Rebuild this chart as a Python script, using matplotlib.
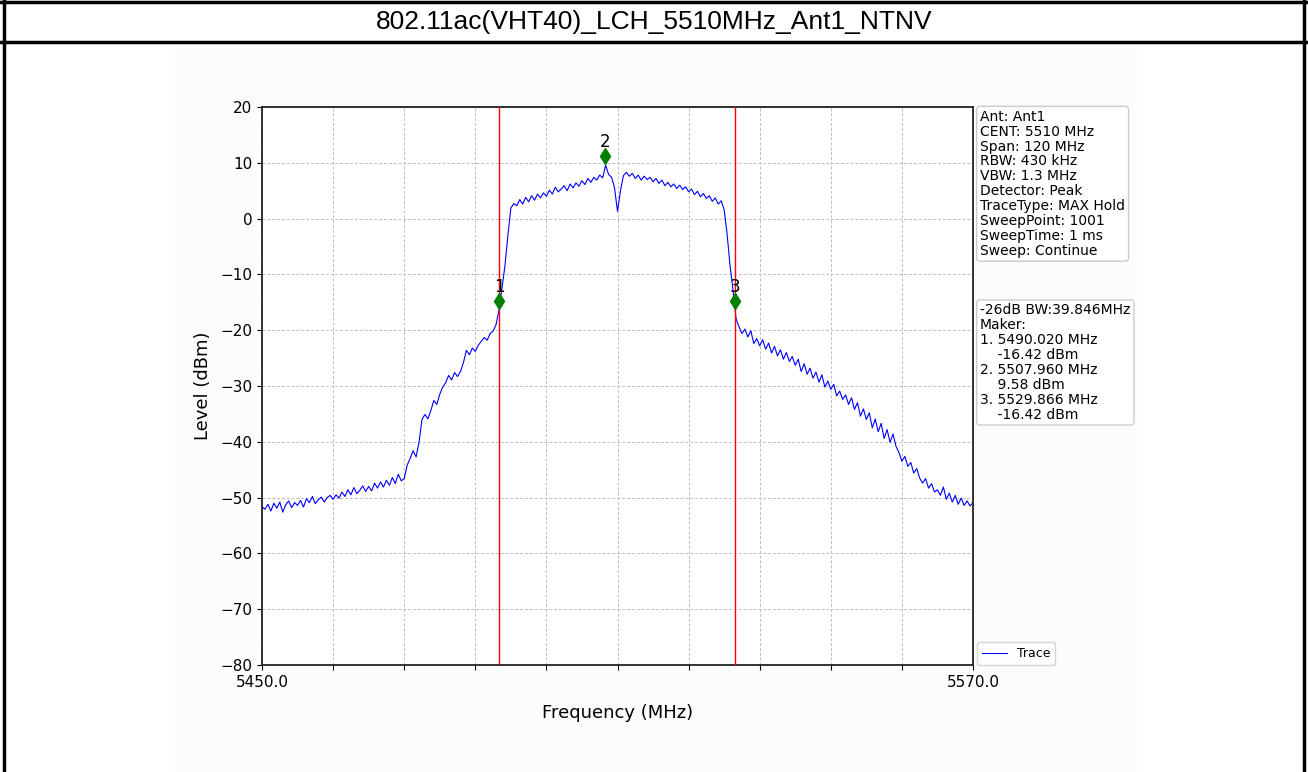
import numpy as np
import matplotlib.pyplot as plt
from matplotlib.lines import Line2D
from matplotlib.patches import Rectangle
import matplotlib.transforms as mtransforms

title = "802.11ac(VHT40)_LCH_5510MHz_Ant1_NTNV"

f_start, f_stop = 5450.0, 5570.0

# trace level (dBm), one value every 0.5 MHz from 5450 to 5570
level = [
    -51.6, -52.1, -51.2, -52.4, -51.0, -51.9, -50.8, -52.6, -51.3, -50.6, -51.8, -50.9,
    -51.4, -50.5, -51.7, -50.2, -50.9, -49.8, -51.1, -50.4, -49.9, -50.8, -50.0, -49.6,
    -50.3, -49.5, -50.1, -49.0, -49.8, -48.6, -49.5, -48.2, -49.3, -48.7, -47.9, -48.9,
    -48.0, -48.8, -47.4, -48.3, -47.2, -48.1, -46.9, -47.8, -46.4, -47.5, -45.8, -47.0,
    -46.6, -44.2, -43.0, -41.6, -42.7, -40.1, -36.0, -35.1, -35.9, -34.4, -32.6, -33.3,
    -31.5, -30.2, -29.4, -28.1, -28.9, -27.6, -28.3, -27.4, -25.8, -23.6, -24.4, -23.2,
    -23.8, -22.7, -22.0, -21.3, -21.8, -20.6, -20.2, -19.0, -16.42, -12.5, -8.5, -3.0,
    1.9, 2.7, 2.3, 3.4, 2.6, 3.8, 3.0, 4.1, 3.3, 4.4, 3.7, 4.6,
    4.0, 5.1, 4.4, 5.6, 4.8, 5.3, 5.9, 5.0, 6.2, 5.5, 6.4, 5.8,
    6.8, 6.1, 7.2, 6.5, 7.4, 6.9, 7.8, 7.3, 9.58, 7.9, 7.4, 5.5,
    1.3, 5.0, 7.7, 8.3, 7.6, 8.1, 7.2, 7.8, 6.9, 7.6, 7.0, 7.4,
    6.6, 7.2, 6.3, 6.9, 5.9, 6.5, 5.7, 6.2, 5.4, 6.0, 5.2, 5.7,
    4.8, 5.3, 4.3, 4.9, 3.9, 4.5, 3.6, 4.1, 3.1, 3.7, 2.6, 3.2,
    1.6, -2.8, -8.5, -12.8, -17.9, -19.4, -20.6, -19.8, -21.2, -20.1, -22.4, -21.5,
    -22.8, -21.7, -23.4, -22.3, -24.1, -22.9, -24.6, -23.5, -25.2, -24.0, -25.6, -24.7,
    -26.3, -25.2, -27.4, -26.0, -27.9, -26.8, -28.6, -27.5, -29.3, -28.0, -30.2, -29.1,
    -30.6, -29.7, -31.8, -30.9, -32.4, -31.6, -33.3, -32.1, -34.2, -33.0, -35.4, -34.1,
    -36.0, -34.8, -37.5, -35.9, -38.2, -36.7, -39.4, -37.8, -40.1, -38.6, -40.8, -41.9,
    -43.5, -42.6, -44.4, -43.7, -45.6, -44.8, -46.5, -47.4, -46.6, -48.3, -47.5, -49.0,
    -48.6, -49.6, -48.1, -50.3, -49.2, -50.8, -49.6, -51.2, -50.1, -51.4, -50.6, -51.5,
    -50.9,
]
freq = np.linspace(f_start, f_stop, len(level))

marker_freq = [5490.020, 5507.960, 5529.866]
marker_level = [-16.42, 9.58, -16.42]
bw_edges = [5490.020, 5529.866]

setup_lines = [
    "Ant: Ant1",
    "CENT: 5510 MHz",
    "Span: 120 MHz",
    "RBW: 430 kHz",
    "VBW: 1.3 MHz",
    "Detector: Peak",
    "TraceType: MAX Hold",
    "SweepPoint: 1001",
    "SweepTime: 1 ms",
    "Sweep: Continue",
]

W, H = 1308, 772
fig = plt.figure(figsize=(W / 100, H / 100), dpi=100)

# report frame: outer border, title row, light panel behind the plot
fig.add_artist(Line2D([0.003, 0.003], [0, 1], color='black', lw=2.5, transform=fig.transFigure))
fig.add_artist(Line2D([0.997, 0.997], [0, 1], color='black', lw=2.5, transform=fig.transFigure))
fig.add_artist(Line2D([0, 1], [0.998, 0.998], color='black', lw=2.5, transform=fig.transFigure))
fig.add_artist(Line2D([0, 1], [1 - 42 / H, 1 - 42 / H], color='black', lw=2.5, transform=fig.transFigure))
fig.add_artist(Rectangle((170 / W, 0), (1137 - 170) / W, (H - 49) / H, transform=fig.transFigure,
                         facecolor='#fcfcfc', edgecolor='none', zorder=-5))
fig.text(0.5, 1 - 22 / H, title, ha='center', va='center', fontsize=19,
         family='Liberation Sans')

ax = fig.add_axes([262 / W, (H - 665) / H, (973 - 262) / W, (665 - 107) / H])
ax.set_facecolor('white')

ax.plot(freq, level, color='blue', lw=0.8, label='Trace')
for f in bw_edges:
    ax.axvline(f, color='red', lw=1.0, zorder=3)

# markers sit a little above the measured point, number on top
lift = mtransforms.offset_copy(ax.transData, fig=fig, x=0, y=6.5, units='points')
for i, (mf, ml) in enumerate(zip(marker_freq, marker_level)):
    ax.plot(mf, ml, marker='d', color='green', markersize=8, transform=lift, zorder=5)
    ax.annotate(str(i + 1), (mf, ml), xytext=(0, 16.5), textcoords='offset points',
                ha='center', va='center', fontsize=12)

ax.set_xlim(f_start, f_stop)
ax.set_ylim(-80, 20)
xt = np.linspace(f_start, f_stop, 11)
ax.set_xticks(xt)
ax.set_xticklabels([f"{f_start:.1f}"] + [''] * 9 + [f"{f_stop:.1f}"])
ax.set_yticks(np.arange(-80, 21, 10))
ax.tick_params(labelsize=11)
ax.grid(True, linestyle=(0, (3, 2)), color='#bdbdbd', lw=0.7)
for s in ax.spines.values():
    s.set_linewidth(1.3)
    s.set_color('#222222')

ax.set_xlabel('Frequency (MHz)', fontsize=13, labelpad=10)
ax.set_ylabel('Level (dBm)', fontsize=13, labelpad=6)

box = dict(boxstyle='round,pad=0.25', facecolor='white', edgecolor='#cccccc', lw=1)
ax.text(1.01, 0.995, "\n".join(setup_lines), transform=ax.transAxes, fontsize=10,
        va='top', ha='left', linespacing=1.08, bbox=box)

bw = bw_edges[1] - bw_edges[0]
summary = [f"-26dB BW:{bw:.3f}MHz", "Maker:"]
for i, (mf, ml) in enumerate(zip(marker_freq, marker_level)):
    summary.append(f"{i + 1}. {mf:.3f} MHz")
    summary.append(f"    {ml:.2f} dBm")
ax.text(1.01, 0.648, "\n".join(summary), transform=ax.transAxes, fontsize=10,
        va='top', ha='left', linespacing=1.08, bbox=box)

ax.legend(loc='lower left', bbox_to_anchor=(1.002, -0.005), fontsize=9,
          handlelength=2.0, borderaxespad=0.2)

fig.savefig('out.png', dpi=100)
